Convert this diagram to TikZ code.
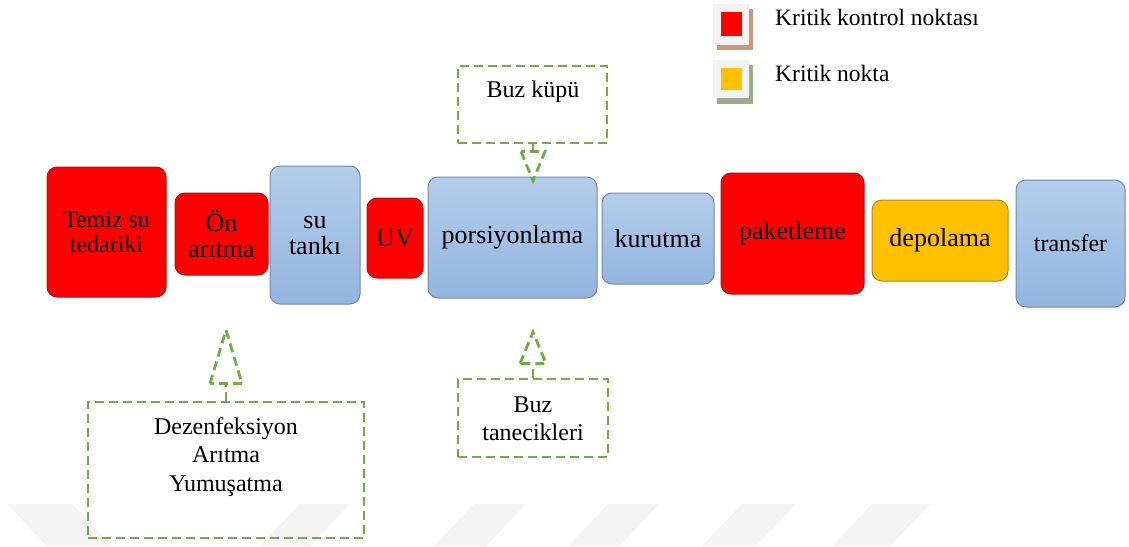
\documentclass[tikz,border=0pt]{standalone}
\usepackage{fontspec}
\setmainfont{Liberation Serif}
\usetikzlibrary{calc}
\definecolor{kred}{HTML}{FF0000}
\definecolor{kredline}{HTML}{9E1B1B}
\definecolor{korange}{HTML}{FFC000}
\definecolor{korangeline}{HTML}{B58A00}
\definecolor{kbluetop}{HTML}{B4CDEA}
\definecolor{kbluebot}{HTML}{93B5E1}
\definecolor{kblueline}{HTML}{7189A6}
\definecolor{kgreen}{HTML}{70AD47}
\definecolor{kwater}{HTML}{F4F4F4}
\definecolor{klegbg}{HTML}{F2F2F2}
\definecolor{kshadowA}{HTML}{C49A80}
\definecolor{kshadowB}{HTML}{9CAB8C}
\begin{document}
\begin{tikzpicture}[x=1pt,y=-1pt,
  procbox/.style={rounded corners=10pt, line width=1pt, inner sep=0pt, align=center,
    font=\fontsize{26}{26}\selectfont},
  redbox/.style={procbox, fill=kred, draw=kredline},
  bluebox/.style={procbox, top color=kbluetop, bottom color=kbluebot, draw=kblueline},
  orangebox/.style={procbox, fill=korange, draw=korangeline},
  gdash/.style={draw=kgreen, line width=2.8pt, dash pattern=on 9pt off 5pt},
  notebox/.style={gdash, rectangle, inner sep=0pt},
  notetext/.style={align=center, font=\fontsize{24}{28.5}\selectfont},
  legtext/.style={anchor=west, font=\fontsize{23.5}{28}\selectfont, inner sep=0pt}
]
\useasboundingbox (0,0) rectangle (1129,546);
% faint watermark stripes
\fill[kwater] (7,504) -- (72,504) -- (112,546) -- (47,546) -- cycle;
\fill[kwater] (300,504) -- (350,504) -- (310,546) -- (260,546) -- cycle;
\fill[kwater] (474,504) -- (526,504) -- (486,546) -- (434,546) -- cycle;
\fill[kwater] (608,504) -- (659,504) -- (619,546) -- (568,546) -- cycle;
\fill[kwater] (742,504) -- (796,504) -- (756,546) -- (702,546) -- cycle;
\fill[kwater] (872,504) -- (930,504) -- (890,546) -- (832,546) -- cycle;

% process boxes
\node[redbox, minimum width=119pt, minimum height=130pt, font=\fontsize{24}{25}\selectfont] (tem) at (106.5,232) {Temiz su\\tedariki};
\node[redbox, minimum width=93pt, minimum height=82pt] (on) at (221.5,234) {Ön\\arıtma};
\node[bluebox, minimum width=90pt, minimum height=138pt] (tank) at (315,235) {su\\tankı};
\node[redbox, minimum width=56pt, minimum height=80pt] (uv) at (395,238) {UV};
\node[bluebox, minimum width=169pt, minimum height=121pt] (por) at (512.5,237.5) {porsiyonlama};
\node[bluebox, minimum width=112pt, minimum height=91pt] (kur) at (658,238.5) {kurutma};
\node[redbox, minimum width=143pt, minimum height=121pt] (pak) at (792.5,233.5) {paketleme};
\node[orangebox, minimum width=136pt, minimum height=81pt] (dep) at (940,240.5) {depolama};
\node[bluebox, minimum width=109pt, minimum height=127pt, font=\fontsize{24}{24}\selectfont] (tra) at (1070.5,243.5) {transfer};

% dashed note boxes
\node[notebox, minimum width=149pt, minimum height=77pt] (kup) at (532.5,104.5) {};
\node[notetext] (kupt) at (533,92) {Buz küpü};
\node[notebox, minimum width=276pt, minimum height=136pt] (dez) at (226,470) {};
\node[notetext] (dezt) at (226,457) {Dezenfeksiyon\\Arıtma\\Yumuşatma};
\node[notebox, minimum width=150pt, minimum height=78pt] (tan) at (533,418) {};
\node[notetext] (tant) at (533,419) {Buz\\tanecikleri};

% hollow dashed block arrows
\coordinate (kuptip) at (533,181);
\coordinate (deztip) at (226,330);
\coordinate (tantip) at (533,332);
\draw[gdash] (kup.south -| kuptip) -- ++(0,7) coordinate (kupb);
\draw[gdash] ($(kupb)+(-12,0)$) -- (kuptip) -- ($(kupb)+(12,0)$) -- cycle;
\draw[gdash] (dez.north) -- ++(0,-17) coordinate (dezb);
\draw[gdash] ($(dezb)+(-16,0)$) -- (deztip) -- ($(dezb)+(16,0)$) -- cycle;
\draw[gdash] (tan.north) -- ++(0,-14) coordinate (tanb);
\draw[gdash] ($(tanb)+(-13,0)$) -- (tantip) -- ($(tanb)+(13,0)$) -- cycle;

% legend
\fill[kshadowA] (717,9) rectangle (753,50);
\fill[klegbg] (713,4) rectangle (749,45);
\fill[kred] (721,12) rectangle (742,36);
\node[legtext] (leg1) at (775,17) {Kritik kontrol noktası};
\fill[kshadowB] (717,65) rectangle (753,104);
\fill[klegbg] (713,60) rectangle (749,98);
\fill[korange] (721,68) rectangle (742,90);
\node[legtext] (leg2) at (775,73) {Kritik nokta};
\end{tikzpicture}
\end{document}
